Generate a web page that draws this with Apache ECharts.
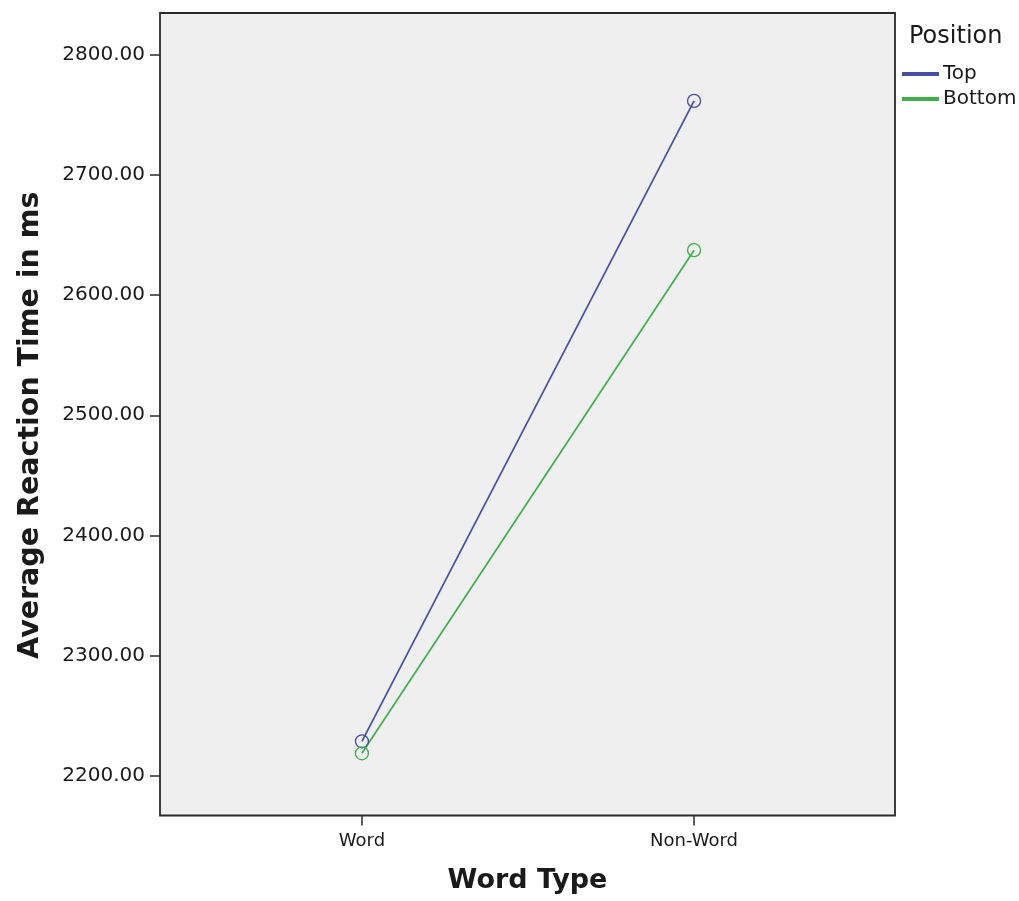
<!DOCTYPE html>
<html>
<head>
<meta charset="utf-8">
<script src="https://cdn.jsdelivr.net/npm/echarts@6/dist/echarts.min.js"></script>
<style>
html,body{margin:0;padding:0;background:#fff;}
#chart{width:1019px;height:901px;}
</style>
</head>
<body>
<div id="chart"></div>
<script>
const categories = ['Word', 'Non-Word'];
const seriesNames = ['Top', 'Bottom'];
const topValues = [2228.5, 2761.8];
const bottomValues = [2218.5, 2637.5];
const yTicks = [2200, 2300, 2400, 2500, 2600, 2700, 2800];
const colors = ['#46509e', '#3fae4c'];

const catIdx = categories.map((c, i) => i);
const toData = vals => vals.map((v, i) => [catIdx[i], v]);

const chart = echarts.init(document.getElementById('chart'), null, {renderer: 'canvas'});
chart.setOption({
  animation: false,
  backgroundColor: '#fff',
  title: {
    text: 'Position',
    left: 909,
    top: 25,
    padding: 0,
    textStyle: {fontFamily: 'DejaVu Sans', fontSize: 24, fontWeight: 'normal', color: '#1a1a1a'}
  },
  legend: {
    orient: 'vertical',
    left: 902,
    top: 64,
    padding: 0,
    itemGap: 5,
    itemWidth: 35,
    itemHeight: 2,
    icon: 'rect',
    data: seriesNames,
    textStyle: {fontFamily: 'DejaVu Sans', fontSize: 20, color: '#1a1a1a'}
  },
  grid: {
    left: 160,
    right: 124,
    top: 13,
    bottom: 85.5,
    show: true,
    backgroundColor: '#efefef',
    borderColor: '#2a2a2a',
    borderWidth: 1.8,
    containLabel: false
  },
  xAxis: {
    type: 'value',
    min: -0.608,
    max: 1.605,
    name: 'Word Type',
    nameLocation: 'middle',
    nameGap: 52,
    nameTextStyle: {fontFamily: 'DejaVu Sans', fontSize: 27, fontWeight: 'bold', color: '#1a1a1a'},
    axisLine: {show: false, onZero: false},
    splitLine: {show: false},
    axisTick: {show: true, length: 10, customValues: catIdx, lineStyle: {color: '#2a2a2a', width: 1.5}},
    axisLabel: {
      customValues: catIdx,
      margin: 17,
      fontFamily: 'DejaVu Sans',
      fontSize: 18,
      color: '#1a1a1a',
      formatter: v => categories[Math.round(v)]
    }
  },
  yAxis: {
    type: 'value',
    min: 2166.7,
    max: 2835,
    name: 'Average Reaction Time in ms',
    nameLocation: 'middle',
    nameGap: 115,
    nameRotate: 90,
    nameTextStyle: {fontFamily: 'DejaVu Sans', fontSize: 28.5, fontWeight: 'bold', color: '#1a1a1a', padding: [0, 22, 0, 0]},
    axisLine: {show: false, onZero: false},
    splitLine: {show: false},
    axisTick: {show: true, length: 10, customValues: yTicks, lineStyle: {color: '#2a2a2a', width: 1.5}},
    axisLabel: {
      customValues: yTicks,
      margin: 15,
      fontFamily: 'DejaVu Sans',
      fontSize: 20,
      color: '#1a1a1a',
      formatter: v => v.toFixed(2)
    }
  },
  series: [
    {
      name: seriesNames[0],
      type: 'line',
      data: toData(topValues),
      symbol: 'circle',
      symbolSize: 13,
      color: colors[0],
      lineStyle: {width: 1.7, color: colors[0]},
      itemStyle: {color: 'rgba(0,0,0,0)', borderColor: colors[0], borderWidth: 1.3}
    },
    {
      name: seriesNames[1],
      type: 'line',
      data: toData(bottomValues),
      symbol: 'circle',
      symbolSize: 13,
      color: colors[1],
      lineStyle: {width: 1.7, color: colors[1]},
      itemStyle: {color: 'rgba(0,0,0,0)', borderColor: colors[1], borderWidth: 1.3}
    }
  ]
});
</script>
</body>
</html>
